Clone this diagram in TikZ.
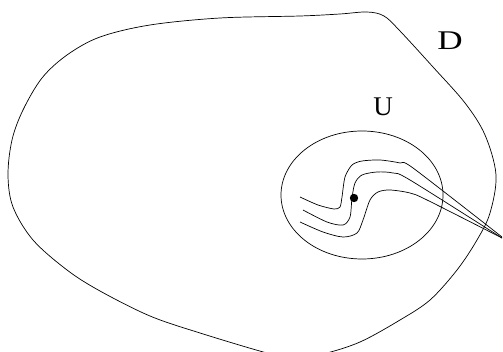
\documentclass[tikz,border=0pt]{standalone}
\usepackage{fontspec}
\usepackage{graphicx}
\setmainfont{Liberation Serif}
\usetikzlibrary{shapes.geometric}
\begin{document}
\begin{tikzpicture}[x=1pt,y=-1pt,
  curve/.style={line width=0.7pt,black},
  lbl/.style={font=\fontsize{27}{27}\selectfont, inner sep=0pt}]
\useasboundingbox (0,0) rectangle (503,352);
% outer region D
\draw[curve] plot[smooth cycle, tension=0.55] coordinates {
 (367,12) (384,16) (400,31) (433,67) (465,103) (485,135) (496,175) (490,213) (477,240) (457,270)
 (430,300) (400,320) (360,342) (323,354) (295,358) (267,353) (200,333) (150,316) (100,291) (67,270)
 (33,240) (13,207) (8,175) (12,140) (23,110) (42,78) (67,55) (100,37) (150,25) (220,18) (300,16) (340,14)};
% neighbourhood U
\node[draw, line width=0.7pt, ellipse, minimum width=162pt, minimum height=128pt, inner sep=0pt] (U) at (362,195) {};
% swirl curves
\draw[curve] plot[smooth, tension=0.45] coordinates {
 (300,197) (318,205) (334,209) (340,207) (342,197) (345,177) (352,165) (362,161) (380,160) (400,163) (413,168) (502,237)};
\draw[curve] plot[smooth, tension=0.5] coordinates {
 (303,210) (327,222) (343,225) (350,217) (352,198) (355,183) (362,175) (377,172) (393,173) (410,180) (502,238)};
\draw[curve] plot[smooth, tension=0.5] coordinates {
 (300,222) (323,232) (343,237) (357,233) (363,220) (370,200) (378,192) (390,190) (410,193) (427,200) (502,238)};
\fill (354,198) circle (4.2);
\node[lbl] (D) at (450,41) {\scalebox{1.3}[1]{D}};
\node[lbl] (Ul) at (383,107) {U};
\end{tikzpicture}
\end{document}
